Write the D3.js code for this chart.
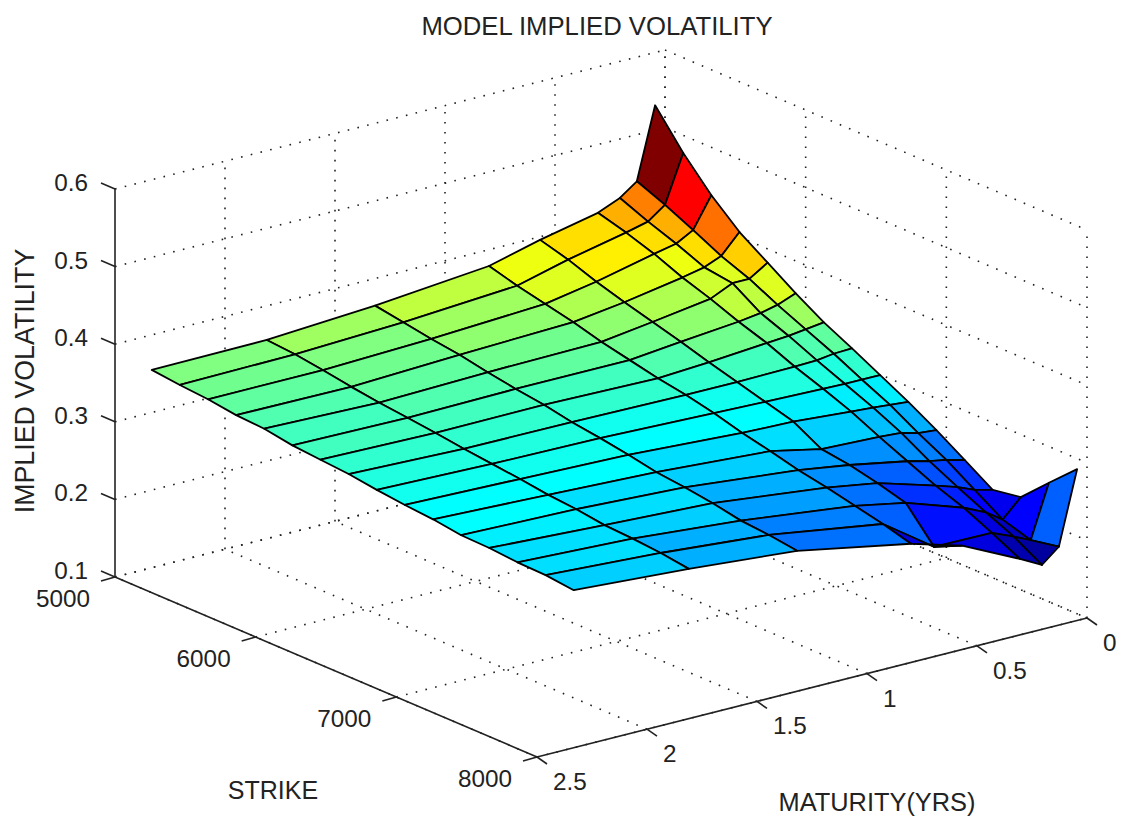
<!DOCTYPE html>
<html><head><meta charset="utf-8">
<style>html,body{margin:0;padding:0;background:#fff}svg{display:block}text{font-family:"Liberation Sans",Arial,sans-serif;fill:#222}</style>
<script src="https://cdn.jsdelivr.net/npm/d3@7"></script>
</head><body><svg id="c" width="1126" height="821"></svg>
<script>
const strikes=[5000,5200,5400,5600,5800,6000,6200,6400,6600,6800,7000,7200,7400,7600,7800,8000];
const maturities=[0.045,0.128,0.205,0.305,0.568,0.80,1.318,1.81,2.333];
const vol0=[.532,.486,.447,.415,.391,.367,.345,.327,.308,.289,.268,.245,.222,.228,.262,.295];
const vol1=[.440,.425,.408,.390,.376,.358,.342,.326,.308,.291,.270,.251,.228,.205,.194,.201];
const vol2=[.424,.409,.396,.381,.376,.353,.339,.323,.308,.293,.276,.255,.237,.220,.204,.183];
const vol3=[.412,.402,.390,.375,.363,.349,.337,.322,.309,.295,.278,.262,.246,.233,.216,.198];
const vol4=[.396,.386,.373,.362,.352,.342,.331,.321,.311,.301,.281,.276,.268,.258,.217,.234];
const vol5=[.379,.369,.361,.353,.343,.335,.327,.321,.313,.303,.295,.286,.279,.271,.263,.253];
const vol6=[.365,.359,.353,.348,.341,.335,.330,.323,.318,.312,.305,.301,.296,.289,.286,.281];
const vol7=[.356,.353,.348,.342,.337,.333,.329,.324,.320,.316,.311,.308,.303,.301,.298,.293];
const vol8=[.355,.351,.348,.343,.341,.335,.332,.329,.324,.320,.317,.312,.311,.308,.307,.303];
const volGrid=[vol0,vol1,vol2,vol3,vol4,vol5,vol6,vol7,vol8];
const zTicks=[0.1,0.2,0.3,0.4,0.5,0.6];
const strikeTicks=[5000,6000,7000,8000];
const matTicks=[0,0.5,1,1.5,2,2.5];
const colorLimits=[0.188,0.530];

const ox=115,oy=577;
const sX=d3.scaleLinear().domain([5000,8000]).range([0,422]);
const sY=d3.scaleLinear().domain([5000,8000]).range([0,180]);
const mX=d3.scaleLinear().domain([2.5,0]).range([0,550]);
const mY=d3.scaleLinear().domain([2.5,0]).range([0,-139]);
const zY=d3.scaleLinear().domain([0.1,0.6]).range([0,-388]);
const P=(s,m,z)=>[ox+sX(s)+mX(m),oy+sY(s)+mY(m)+zY(z)];

const cl=v=>Math.max(0,Math.min(1,v));
const cNorm=d3.scaleLinear().domain(colorLimits).range([0,1]).clamp(true);
function jet(z){
  const t=cNorm(z),v=(Math.min(63,Math.floor(t*64))+1)/64;
  const r=cl(Math.min(4*v-1.5,-4*v+4.5)),g=cl(Math.min(4*v-.5,-4*v+3.5)),b=cl(Math.min(4*v+.5,-4*v+2.5));
  return d3.rgb(r*255,g*255,b*255).formatHex();
}
const svg=d3.select('#c');
const line=d3.line();
const gGrid=svg.append('g').attr('fill','none').attr('stroke','#222').attr('stroke-width',1.6).attr('stroke-dasharray','1.6 8.4');
const seg=(a,b)=>gGrid.append('path').attr('d',line([a,b]));
const Z0=zTicks[0],Z1=zTicks[zTicks.length-1],S0=5000,S1=8000,M0=0,M1=2.5;
zTicks.forEach(z=>{seg(P(S0,M1,z),P(S0,M0,z));seg(P(S0,M0,z),P(S1,M0,z));});
matTicks.forEach(m=>{seg(P(S1,m,Z0),P(S0,m,Z0));if(m!==M1)seg(P(S0,m,Z0),P(S0,m,Z1));});
strikeTicks.forEach(s=>{seg(P(s,M1,Z0),P(s,M0,Z0));seg(P(s,M0,Z0),P(s,M0,Z1));});

const gS=svg.append('g').attr('stroke','#000').attr('stroke-width',1.8).attr('stroke-linejoin','round');
maturities.slice(0,-1).forEach((m,j)=>{
  strikes.slice(0,-1).forEach((s,i)=>{
    const m2=maturities[j+1],s2=strikes[i+1];
    gS.append('path').attr('fill',jet(volGrid[j][i]))
      .attr('d',line([P(s,m,volGrid[j][i]),P(s2,m,volGrid[j][i+1]),P(s2,m2,volGrid[j+1][i+1]),P(s,m2,volGrid[j+1][i])])+'Z');
  });
});

const gA=svg.append('g').attr('fill','none').attr('stroke','#222').attr('stroke-width',1.6);
const ax=(a,b)=>gA.append('path').attr('d',line([a,b]));
ax(P(S0,M1,Z0),P(S0,M1,Z1));ax(P(S0,M1,Z0),P(S1,M1,Z0));ax(P(S1,M1,Z0),P(S1,M0,Z0));
const off=(p,dx,dy)=>[p[0]+dx,p[1]+dy];
const txt=(x,y,t,size,anchor)=>svg.append('text').attr('x',x).attr('y',y).attr('font-size',size).attr('text-anchor',anchor).text(t);
zTicks.forEach(z=>{const p=P(S0,M1,z);ax(p,off(p,-14,-6));txt(88,p[1]+2,String(z),24.3,'end');});
strikeTicks.forEach(s=>{const p=P(s,M1,Z0);ax(p,off(p,-14,4));txt(p[0]-25,p[1]+30,String(s),24.3,'end');});
matTicks.forEach(m=>{const p=P(S1,m,Z0);ax(p,off(p,10,7));txt(p[0]+16,p[1]+33,String(m),24.3,'start');});

txt(597,35,'MODEL IMPLIED VOLATILITY',25.7,'middle');
txt(273,799,'STRIKE',25,'middle');
txt(877,811,'MATURITY(YRS)',25.4,'middle');
svg.append('text').attr('transform','translate(34,381) rotate(-90)').attr('font-size',26.8).attr('text-anchor','middle').text('IMPLIED VOLATILITY');
</script></body></html>
